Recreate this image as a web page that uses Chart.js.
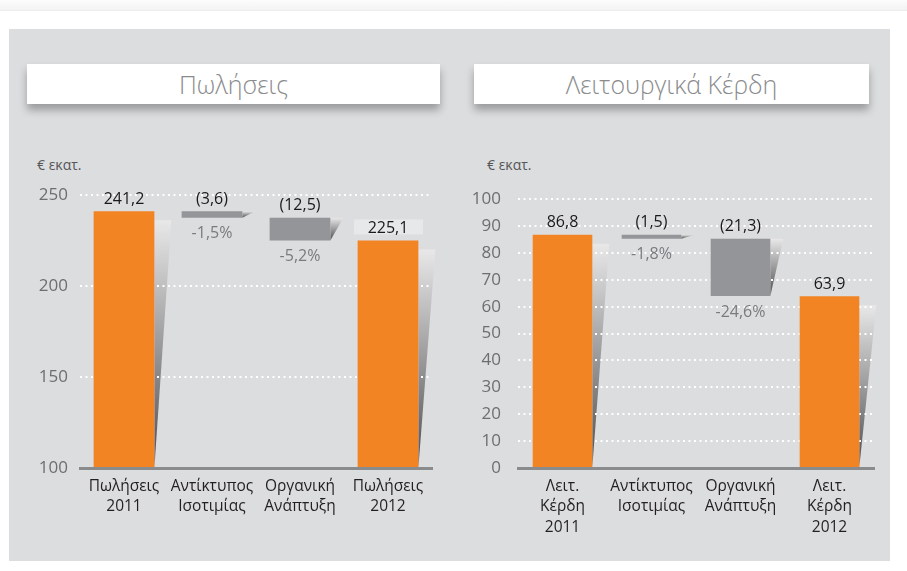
<!DOCTYPE html>
<html>
<head>
<meta charset="utf-8">
<script src="https://cdn.jsdelivr.net/npm/chart.js@4.4.0/dist/chart.umd.min.js"></script>
<style>
  body { margin: 0; width: 907px; height: 571px; background: #fff; position: relative; overflow: hidden; font-family: 'Open Sans', sans-serif; }
  .topbar { position: absolute; left: 0; top: 0; width: 907px; height: 10px; background: linear-gradient(#fcfcfc, #f3f3f4); border-bottom: 1px solid #ececed; }
  .panel { position: absolute; left: 9px; top: 29px; width: 881px; height: 532px; background: #dcdddf; }
  .title { position: absolute; top: 64px; height: 40px; line-height: 40px; background: #fff; box-shadow: 0 6px 8px rgba(0,0,0,0.3); color: #8a8b8d; font-size: 25px; font-weight: 300; text-align: center; }
  .unit { position: absolute; top: 155px; font-size: 14px; color: #555658; }
  canvas { position: absolute; }
</style>
</head>
<body>
<div class="topbar"></div>
<div class="panel"></div>
<div class="title" style="left:27px;width:413px;">Πωλήσεις</div>
<div class="title" style="left:474px;width:395px;">Λειτουργικά Κέρδη</div>
<div class="unit" style="left:37px;">€ εκατ.</div>
<div class="unit" style="left:487px;">€ εκατ.</div>
<canvas id="sales" width="420" height="380" style="left:20px;top:173px;"></canvas>
<canvas id="profit" width="430" height="380" style="left:455px;top:172px;"></canvas>
<script>
// Sales bridge 2011 -> 2012 (€ m)
const salesCategories = [['Πωλήσεις', '2011'], ['Αντίκτυπος', 'Ισοτιμίας'], ['Οργανική', 'Ανάπτυξη'], ['Πωλήσεις', '2012']];
const salesValues = [241.2, [237.6, 241.2], [225.1, 237.6], 225.1];
const salesLabels = ['241,2', '(3,6)', '(12,5)', '225,1'];
const salesPercents = ['', '-1,5%', '-5,2%', ''];
const salesTicks = { min: 100, max: 250, step: 50 };

// Operating profit bridge 2011 -> 2012 (€ m)
const profitCategories = [['Λειτ.', 'Κέρδη', '2011'], ['Αντίκτυπος', 'Ισοτιμίας'], ['Οργανική', 'Ανάπτυξη'], ['Λειτ.', 'Κέρδη', '2012']];
const profitValues = [86.8, [85.3, 86.8], [64.0, 85.3], 63.9];
const profitLabels = ['86,8', '(1,5)', '(21,3)', '63,9'];
const profitPercents = ['', '-1,8%', '-24,6%', ''];
const profitTicks = { min: 0, max: 100, step: 10 };

const ORANGE = '#f38423';
const GREY = '#939598';

// wedge shadows beside each bar + value / percentage labels
const waterfallDecor = {
  id: 'waterfallDecor',
  beforeDraw(chart) {
    const ctx = chart.ctx;
    const raw = chart.data.datasets[0].data;
    const floor = chart.chartArea.bottom;
    chart.getDatasetMeta(0).data.forEach((bar, i) => {
      const total = !Array.isArray(raw[i]);
      const top = Math.min(bar.y, bar.base) + (total ? 9 : 0);
      const bottom = Math.min(Math.max(bar.y, bar.base), floor);
      const right = bar.x + bar.width / 2;
      const w = total ? 17 : 13;
      const g = ctx.createLinearGradient(0, top, 0, bottom);
      g.addColorStop(0, '#e8e8e9');
      g.addColorStop(1, '#4e4e50');
      ctx.save();
      ctx.fillStyle = g;
      ctx.beginPath();
      ctx.moveTo(right, top);
      ctx.lineTo(right + w, top);
      ctx.lineTo(right, bottom);
      ctx.closePath();
      ctx.fill();
      ctx.restore();
    });
  },
  afterDatasetsDraw(chart, args, opts) {
    const ctx = chart.ctx;
    const floor = chart.chartArea.bottom;
    ctx.save();
    ctx.textAlign = 'center';
    ctx.textBaseline = 'middle';
    chart.getDatasetMeta(0).data.forEach((bar, i) => {
      const top = Math.min(bar.y, bar.base);
      const bottom = Math.min(Math.max(bar.y, bar.base), floor);
      ctx.font = '16px "Open Sans"';
      if (opts.boxed && opts.boxed[i]) {
        ctx.fillStyle = '#e7e8e9';
        ctx.fillRect(bar.x - 34, top - 21, 69, 15);
      }
      ctx.fillStyle = '#1a1a1a';
      ctx.fillText(opts.top[i], bar.x, top - 12);
      if (opts.below[i]) {
        ctx.fillStyle = '#7a7b7e';
        ctx.fillText(opts.below[i], bar.x, bottom + 16);
      }
    });
    ctx.restore();
  }
};

function bridgeChart(el, categories, values, top, below, ticks, sizes) {
  return new Chart(document.getElementById(el), {
    type: 'bar',
    data: {
      labels: categories,
      datasets: [{
        data: values,
        backgroundColor: values.map(v => Array.isArray(v) ? GREY : ORANGE),
        borderWidth: 0,
        categoryPercentage: 1,
        barPercentage: sizes.bar
      }]
    },
    options: {
      responsive: false,
      animation: false,
      layout: { padding: { top: 0, right: sizes.right, left: 0, bottom: 0 } },
      plugins: {
        legend: { display: false },
        tooltip: { enabled: false },
        waterfallDecor: { top: top, below: below, boxed: sizes.boxed }
      },
      scales: {
        x: {
          grid: { display: false, drawTicks: false },
          border: { display: true, color: '#8a8b8d', width: 3, z: 1 },
          ticks: { color: '#231f20', font: { family: 'Open Sans', size: 15.5, lineHeight: 1.33 }, padding: 8, maxRotation: 0, autoSkip: false },
          afterFit(scale) { scale.height = sizes.xh; }
        },
        y: {
          min: ticks.min,
          max: ticks.max,
          grid: {
            drawTicks: false,
            lineWidth: 2,
            color: c => c.tick && c.tick.value === ticks.min ? 'rgba(0,0,0,0)' : '#ffffff'
          },
          border: { display: false, dash: [2, 3.5] },
          ticks: { stepSize: ticks.step, color: '#6d6e71', font: { family: 'Open Sans', size: 17 }, padding: sizes.tp },
          afterFit(scale) { scale.width = sizes.yw; }
        }
      }
    },
    plugins: [waterfallDecor]
  });
}

bridgeChart('sales', salesCategories, salesValues, salesLabels, salesPercents, salesTicks,
  { bar: 0.69, right: 8, xh: 85, yw: 60, tp: 12, boxed: [false, false, false, true] });
bridgeChart('profit', profitCategories, profitValues, profitLabels, profitPercents, profitTicks,
  { bar: 0.67, right: 11, xh: 84, yw: 63, tp: 17, boxed: null });
</script>
</body>
</html>
